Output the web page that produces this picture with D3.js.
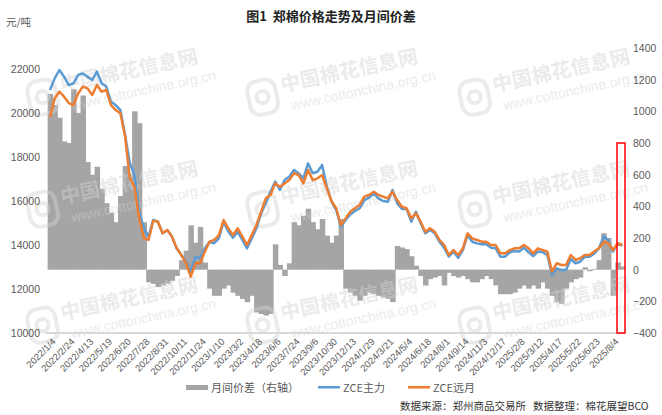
<!DOCTYPE html>
<html>
<head>
<meta charset="utf-8">
<script src="https://cdn.jsdelivr.net/npm/d3@7"></script>
<style>
  body { margin: 0; background: #fff; }
  text { font-family: "Liberation Sans", "Noto Sans CJK SC", sans-serif; }
</style>
</head>
<body>
<div id="chart"></div>
<script>
// x axis labels, one every 4 samples
let tickLabels = ["2022/1/4", "2022/2/24", "2022/4/13", "2022/5/19", "2022/6/20", "2022/7/28", "2022/8/31",
  "2022/10/11", "2022/11/24", "2023/1/10", "2023/3/2", "2023/4/18", "2023/6/6", "2023/7/24", "2023/9/6",
  "2023/10/30", "2023/12/13", "2024/1/29", "2024/3/21", "2024/5/4", "2024/6/18", "2024/8/1", "2024/9/14",
  "2024/11/3", "2024/12/17", "2025/2/8", "2025/3/12", "2025/4/17", "2025/5/22", "2025/6/23", "2025/8/4"];

// 月间价差 (right axis)
let spread = [1110, 1040, 960, 810, 800, 1140, 990, 1100, 680, 600,
  650, 510, 420, 360, 300, 465, 655, 600, 1000, 925,
  300, -80, -90, -110, -100, -90, -70, -40, 60, 120,
  280, 170, 270, 45, -120, -165, -165, -120, -100, -145,
  -165, -185, -205, -165, -270, -280, -290, -280, 160, 30,
  -40, 40, 300, 280, 340, 385, 300, 255, 320, 215,
  170, 215, 320, -120, -145, -165, -195, -165, -145, -155,
  -165, -175, -185, -205, 150, 140, 130, 85, 25, -40,
  -100, -60, -50, -40, -100, -20, -40, -50, -40, -60,
  -80, -80, -60, -40, -60, -100, -155, -155, -155, -145,
  -120, -100, -120, -100, -120, -80, -120, -165, -205, -215,
  -120, -80, -60, -50, 15, -10, 5, 60, 230, 200,
  -165, 45, 20];

// ZCE主力
let zceMain = [21045, 21575, 21955, 21650, 21270, 21350, 21730, 21800, 21650, 21500,
  21880, 21350, 21200, 20510, 20360, 20135, 19000, 17730, 17180, 15510,
  14770, 14380, 15135, 15060, 14530, 14680, 14380, 13850, 13545, 13240,
  12790, 13470, 13400, 13850, 14150, 14080, 14300, 15060, 14610, 14330,
  14600, 14230, 13850, 14300, 14760, 15440, 15900, 16420, 16880, 16500,
  16950, 17100, 17410, 17260, 17030, 17710, 17260, 17330, 17640, 16650,
  15970, 15590, 14830, 15135, 15390, 15545, 15670, 16045, 16150, 16350,
  16120, 16000, 15970, 16500, 15900, 15640, 15640, 15060, 15510, 14985,
  14530, 14680, 14530, 14150, 13880, 13470, 13700, 13420, 13770, 14450,
  14150, 14075, 14030, 14030, 13880, 13850, 13470, 13470, 13670, 13730,
  13700, 13880, 13670, 13500, 13700, 13670, 13545, 12640, 12940, 12865,
  12865, 13365, 13170, 13240, 13470, 13470, 13620, 13850, 14380, 14230,
  13700, 14075, 13970];

// ZCE远月
let zceFar = [19818, 20667, 20970, 20740, 20450, 20360, 20890, 21200, 21120, 20820,
  21270, 20970, 21045, 20360, 20135, 19985, 18950, 17045, 16650, 15230,
  14320, 14230, 15100, 15060, 14530, 14680, 14380, 13850, 13545, 13170,
  12560, 13170, 13170, 13700, 14150, 14230, 14450, 15135, 14760, 14450,
  14760, 14380, 14000, 14450, 14910, 15510, 16120, 16270, 16800, 16650,
  16800, 16950, 17260, 17180, 16800, 17410, 16950, 17030, 17180, 16580,
  16000, 15670, 14910, 15210, 15510, 15670, 15820, 16200, 16270, 16420,
  16270, 16200, 16120, 16420, 16045, 15740, 15670, 15210, 15440, 15060,
  14600, 14760, 14600, 14230, 14000, 13545, 13770, 13545, 13850, 14530,
  14300, 14230, 14150, 14150, 14000, 14000, 13620, 13620, 13770, 13850,
  13850, 14000, 13850, 13620, 13850, 13770, 13700, 12790, 13170, 13090,
  13090, 13545, 13320, 13400, 13545, 13545, 13700, 13850, 14150, 14080,
  13770, 14080, 14000];

let leftTicks = d3.range(10000, 22001, 2000);
let rightTicks = d3.range(-400, 1401, 200);

let width = 662, height = 415;
let perTick = 4;
let grey = "#595959";

let x = d3.scaleLinear()
          .domain([0, (tickLabels.length - 1) * perTick])
          .range([50, 613]);
let step = x(1) - x(0);
let yL = d3.scaleLinear().domain([10000, 22000]).range([333, 69]);
let yR = d3.scaleLinear().domain([-400, 1400]).range([333, 48]);

let svg = d3.select("#chart")
            .append("svg")
            .attr("width", width)
            .attr("height", height);

svg.append("rect").attr("width", width).attr("height", height).attr("fill", "#fff");

// spread bars
svg.append("g")
   .selectAll("rect")
   .data(spread)
   .enter().append("rect")
    .attr("x", function(d, i) { return x(i) - step / 2; })
    .attr("width", step + 0.8)
    .attr("y", function(d) { return d >= 0 ? yR(d) : yR(0); })
    .attr("height", function(d) { return Math.abs(yR(d) - yR(0)); })
    .attr("fill", "#a5a5a5");

// watermarks
let wmCols = [62, 282, 494], wmRows = [92, 204, 320];
wmRows.forEach(function(ry) {
  wmCols.forEach(function(cx) {
    let g = svg.append("g")
               .attr("transform", "translate(" + cx + "," + ry + ") rotate(-12)")
               .attr("opacity", 0.45);
    g.append("rect").attr("x", -34).attr("y", -16).attr("width", 28).attr("height", 34).attr("rx", 10)
     .attr("fill", "none").attr("stroke", "#d4d4d4").attr("stroke-width", 4);
    g.append("circle").attr("cx", -20).attr("cy", 1).attr("r", 6).attr("fill", "none").attr("stroke", "#d4d4d4").attr("stroke-width", 4);
    g.append("text").attr("x", 0).attr("y", 0)
     .style("font-family", "'Noto Sans CJK SC'").style("font-weight", "bold")
     .attr("font-size", 20).attr("fill", "#d4d4d4").text("中国棉花信息网");
    g.append("text").attr("x", 6).attr("y", 20)
     .attr("font-size", 14).attr("fill", "#d4d4d4").text("www.cottonchina.org.cn");
  });
});

// bottom axis line
svg.append("line")
   .attr("x1", 45).attr("x2", 625)
   .attr("y1", 333).attr("y2", 333)
   .attr("stroke", "#d9d9d9").attr("stroke-width", 2);

let lineMain = d3.line()
                 .x(function(d, i) { return x(i); })
                 .y(function(d) { return yL(d); });

svg.append("path")
   .datum(zceMain)
   .attr("d", lineMain)
   .attr("fill", "none")
   .attr("stroke", "#5b9bd5")
   .attr("stroke-width", 2.5)
   .attr("stroke-linejoin", "round");

svg.append("path")
   .datum(zceFar)
   .attr("d", lineMain)
   .attr("fill", "none")
   .attr("stroke", "#ed7d31")
   .attr("stroke-width", 2.5)
   .attr("stroke-linejoin", "round");

// left axis
let axL = svg.append("g")
             .attr("transform", "translate(45,0)")
             .call(d3.axisLeft(yL).tickValues(leftTicks).tickFormat(d3.format("d")).tickSize(0).tickPadding(5));
axL.select(".domain").remove();
axL.selectAll("text").attr("fill", grey).attr("font-size", 10.5);

// right axis
let axR = svg.append("g")
             .attr("transform", "translate(628,0)")
             .call(d3.axisRight(yR).tickValues(rightTicks).tickFormat(d3.format("d")).tickSize(0).tickPadding(5));
axR.select(".domain").remove();
axR.selectAll("text").attr("fill", grey).attr("font-size", 10.5);

// x labels
svg.append("g")
   .selectAll("text")
   .data(tickLabels)
   .enter().append("text")
    .attr("transform", function(d, i) { return "translate(" + (x(i * perTick) + 4) + ",340) rotate(-45)"; })
    .attr("text-anchor", "end")
    .attr("dy", "0.35em")
    .attr("font-size", 9.5)
    .attr("fill", grey)
    .text(function(d) { return d; });

// red box
svg.append("rect")
   .attr("x", 617).attr("y", yR(800))
   .attr("width", 8).attr("height", yR(-400) - yR(800))
   .attr("fill", "none")
   .attr("stroke", "#ff0000")
   .attr("stroke-width", 1.5);

// title and unit
svg.append("text")
   .attr("x", 331).attr("y", 21)
   .attr("text-anchor", "middle")
   .style("font-family", "'Noto Sans CJK SC'")
   .style("font-weight", "bold")
   .style("white-space", "pre")
   .attr("font-size", 13)
   .attr("fill", "#222")
   .text("图1  郑棉价格走势及月间价差");

svg.append("text")
   .attr("x", 6).attr("y", 26)
   .style("font-family", "'Noto Sans CJK SC'")
   .attr("font-size", 10.5)
   .attr("fill", grey)
   .text("元/吨");

// legend
let legend = [
  {name: "月间价差（右轴）", color: "#a5a5a5", x: 186, bar: true},
  {name: "ZCE主力", color: "#5b9bd5", x: 318, bar: false},
  {name: "ZCE远月", color: "#ed7d31", x: 408, bar: false}
];
legend.forEach(function(l) {
  svg.append("rect")
     .attr("x", l.x).attr("y", l.bar ? 385 : 386)
     .attr("width", 22).attr("height", l.bar ? 5 : 2.5)
     .attr("fill", l.color);
  svg.append("text")
     .attr("x", l.x + 25).attr("y", 392)
     .style("font-family", "'Noto Sans CJK SC'")
     .attr("font-size", 11)
     .attr("fill", grey)
     .text(l.name);
});

svg.append("text")
   .attr("x", 400).attr("y", 410)
   .style("font-family", "'Noto Sans CJK SC'")
   .style("white-space", "pre")
   .attr("font-size", 10.5)
   .attr("fill", "#333")
   .text("数据来源：郑州商品交易所   数据整理：棉花展望BCO");
</script>
</body>
</html>
